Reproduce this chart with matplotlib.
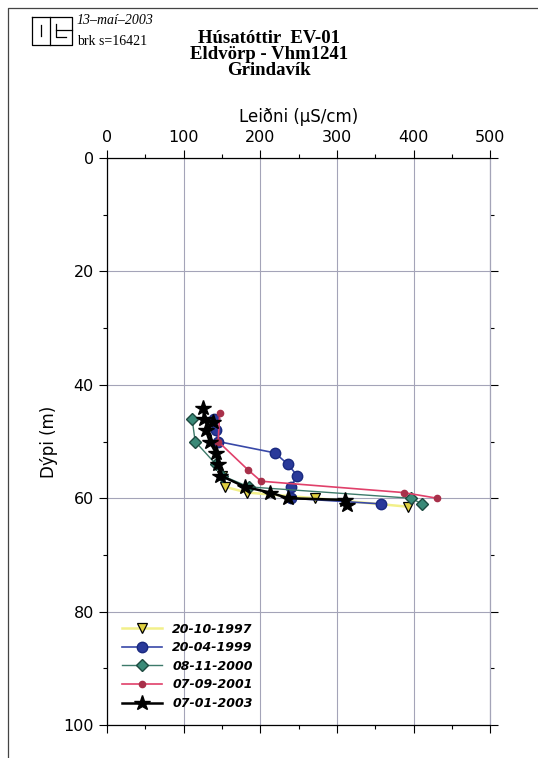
import matplotlib
matplotlib.use('Agg')
import matplotlib.pyplot as plt
from matplotlib.lines import Line2D
from matplotlib.ticker import MultipleLocator

# leiðni (uS/cm) og dýpi (m) fyrir hverja mælingu
d_1997 = [56, 58, 59, 60, 61.5]
v_1997 = [150, 154, 183, 272, 393]

d_1999 = [46, 48, 50, 52, 54, 56, 58, 60, 61]
v_1999 = [140, 142, 145, 219, 236, 248, 240, 240, 358]

d_2000 = [46, 50, 54, 56, 58, 60, 61]
v_2000 = [111, 115, 142, 150, 185, 397, 411]

d_2001 = [45, 50, 55, 57, 59, 60]
v_2001 = [147, 145, 184, 201, 387, 431]

d_2003 = [44, 46, 46.5, 48, 50, 52, 54, 56, 58, 59, 60, 60.3, 61.2]
v_2003 = [125, 127, 138, 129, 134, 142, 145, 148, 180, 213, 236, 311, 313]

labels = ['20-10-1997', '20-04-1999', '08-11-2000', '07-09-2001', '07-01-2003']

fig = plt.figure(figsize=(5.38, 7.58), dpi=100)
ax = fig.add_axes([0.199, 0.0435, 0.712, 0.748])

ax.plot(v_1997, d_1997, color='#f2f08a', lw=1.8, marker='v', ms=7,
        mfc='#e0d040', mec='black', mew=0.9, label=labels[0])
ax.plot(v_1999, d_1999, color='#3848a8', lw=1.2, marker='o', ms=7.5,
        mfc='#2a3a9a', mec='#1a2a80', label=labels[1])
ax.plot(v_2000, d_2000, color='#3d7a6a', lw=1.0, marker='D', ms=6,
        mfc='#3a8a78', mec='#1e4a40', label=labels[2])
ax.plot(v_2001, d_2001, color='#e0406a', lw=1.2, marker='o', ms=4.5,
        mfc='#a8304a', mec='#a8304a', label=labels[3])
ax.plot(v_2003, d_2003, color='black', lw=1.8, marker='*', ms=11.5,
        mfc='black', mec='black', label=labels[4])

ax.set_xlim(0, 500)
ax.set_ylim(100, 0)
ax.xaxis.set_major_locator(MultipleLocator(100))
ax.xaxis.set_minor_locator(MultipleLocator(50))
ax.yaxis.set_major_locator(MultipleLocator(20))
ax.yaxis.set_minor_locator(MultipleLocator(10))
ax.xaxis.tick_top()
ax.xaxis.set_label_position('top')
ax.tick_params(axis='both', which='major', labelsize=11.5, length=6, width=0.8)
ax.tick_params(axis='both', which='minor', length=3, width=0.8)
ax.tick_params(axis='x', which='both', top=True, bottom=True, direction='out')
ax.tick_params(axis='y', which='both', left=True, right=True)
ax.grid(True, which='major', color='#a4a4b8', lw=0.8)
ax.set_axisbelow(True)
for s in ax.spines.values():
    s.set_linewidth(0.9)
ax.spines['right'].set_color('#a4a4b8')

ax.set_xlabel('Leiðni (µS/cm)', fontsize=12, labelpad=6)
ax.set_ylabel('Dýpi (m)', fontsize=12, labelpad=4)

leg = ax.legend(loc='lower left', bbox_to_anchor=(0.0, 0.0), frameon=False,
                prop={'size': 9, 'weight': 'bold', 'style': 'italic'},
                handlelength=3.2, labelspacing=0.45, borderaxespad=0.8)

# titill
serif = 'Liberation Serif'
fig.text(0.5, 0.943, 'Húsatóttir  EV-01', ha='center', fontsize=13.5,
         fontweight='bold', family=serif)
fig.text(0.5, 0.922, 'Eldvörp - Vhm1241', ha='center', fontsize=13.5,
         fontweight='bold', family=serif)
fig.text(0.5, 0.901, 'Grindavík', ha='center', fontsize=13.5,
         fontweight='bold', family=serif)

fig.text(0.143, 0.968, '13\u2013maí\u20132003', fontsize=10, style='italic', family=serif)
fig.text(0.143, 0.941, 'brk s=16421', fontsize=10, family=serif)

# merki (OS)
def px(x, y):
    return x / 538, 1 - y / 758

logo = [
    [(32, 17), (72, 17), (72, 45), (32, 45), (32, 17)],
    [(50, 17), (50, 45)],
    [(41, 25), (41, 36)],
    [(56, 24), (56, 37), (66, 37)],
    [(56, 30), (72, 30)],
]
for seg in logo:
    xs, ys = zip(*[px(x, y) for x, y in seg])
    fig.add_artist(Line2D(xs, ys, color='black', lw=0.9))

# rammi um blaðið
xs, ys = zip(*[px(8, 758), px(8, 8), px(538, 8)])
fig.add_artist(Line2D(xs, ys, color='#444444', lw=0.9))

fig.savefig('out.png', dpi=100)
